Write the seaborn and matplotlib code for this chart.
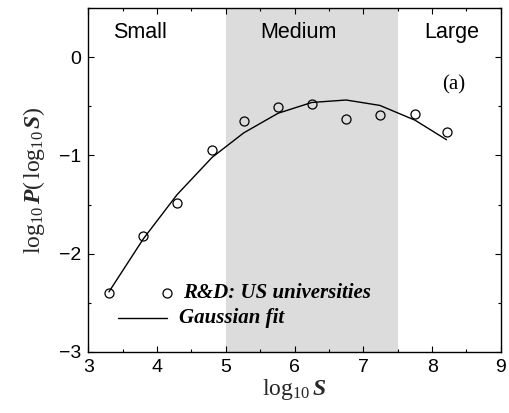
import numpy as np
import pandas as pd
import seaborn as sns
import matplotlib
matplotlib.use("Agg")
import matplotlib.pyplot as plt
from matplotlib.ticker import MultipleLocator

# Data
log_s = [3.30, 3.80, 4.29, 4.80, 5.26, 5.76, 6.25, 6.75, 7.24, 7.75, 8.21]
log_p = [-2.40, -1.82, -1.48, -0.94, -0.65, -0.51, -0.48, -0.63, -0.59, -0.58, -0.76]
fit_x = [3.30, 3.80, 4.29, 4.80, 5.26, 5.76, 6.25, 6.75, 7.24, 7.75, 8.21]
fit_y = [-2.39, -1.85, -1.40, -1.02, -0.77, -0.57, -0.46, -0.435, -0.49, -0.64, -0.84]
regions = ["Small", "Medium", "Large"]
region_x = [3.75, 6.05, 8.28]
medium_span = [5.0, 7.5]

sns.set_theme(style="ticks")
plt.rcParams["font.family"] = ["Liberation Sans", "DejaVu Sans"]
plt.rcParams["mathtext.fontset"] = "custom"
plt.rcParams["mathtext.rm"] = "Liberation Serif"
plt.rcParams["mathtext.it"] = "Liberation Serif:italic"
plt.rcParams["mathtext.bf"] = "Liberation Serif:bold"
plt.rcParams["mathtext.bfit"] = "Liberation Serif:italic:bold"

fig = plt.figure(figsize=(5.09, 4.13), dpi=100)
ax = fig.add_axes([0.1735, 0.1484, 0.8105, 0.8316])

ax.axvspan(medium_span[0], medium_span[1], color="#dcdcdc", lw=0, zorder=0)

df_pts = pd.DataFrame({"x": log_s, "y": log_p})
df_fit = pd.DataFrame({"x": fit_x, "y": fit_y})
sns.lineplot(data=df_fit, x="x", y="y", ax=ax, color="black", lw=1.0, sort=False, zorder=3)
ax.plot(df_pts["x"], df_pts["y"], ls="none", marker="o", ms=6.5, mfc="none",
        mec="black", mew=0.9, zorder=4)

ax.set_xlim(3, 9)
ax.set_ylim(-3, 0.5)
ax.xaxis.set_major_locator(MultipleLocator(1))
ax.xaxis.set_minor_locator(MultipleLocator(0.5))
ax.yaxis.set_major_locator(MultipleLocator(1))
ax.yaxis.set_minor_locator(MultipleLocator(0.5))
ax.tick_params(which="both", direction="in", top=True, right=True, width=0.8,
               color="black", labelsize=14, labelcolor="black")
ax.tick_params(which="major", length=4, pad=5)
ax.tick_params(which="minor", length=2.5)
for sp in ax.spines.values():
    sp.set_linewidth(1.0)
    sp.set_color("black")

ax.set_xlabel(r"$\mathrm{log}_{10}\,\mathbfit{S}$", fontsize=17, labelpad=1)
ax.set_ylabel(r"$\mathrm{log}_{10}\,\mathbfit{P}\mathrm{(\,log}_{10}\,\mathbfit{S}\mathrm{)}$",
              fontsize=17, labelpad=9)

for name, xv in zip(regions, region_x):
    ax.text(xv, 0.25, name, ha="center", va="center", fontsize=15.5, color="black")

ax.text(8.31, -0.28, "(a)", ha="center", va="center", fontsize=15,
        family="Liberation Serif", color="black")

# legend
ax.plot([4.15], [-2.40], ls="none", marker="o", ms=6.5, mfc="none", mec="black", mew=0.9)
ax.text(4.38, -2.40, "R&D: US universities", ha="left", va="center", fontsize=15,
        family="Liberation Serif", style="italic", weight="bold", color="black")
ax.plot([3.43, 4.15], [-2.66, -2.66], color="black", lw=1.0)
ax.text(4.32, -2.66, "Gaussian fit", ha="left", va="center", fontsize=15,
        family="Liberation Serif", style="italic", weight="bold", color="black")

fig.savefig("out.png", dpi=100)
